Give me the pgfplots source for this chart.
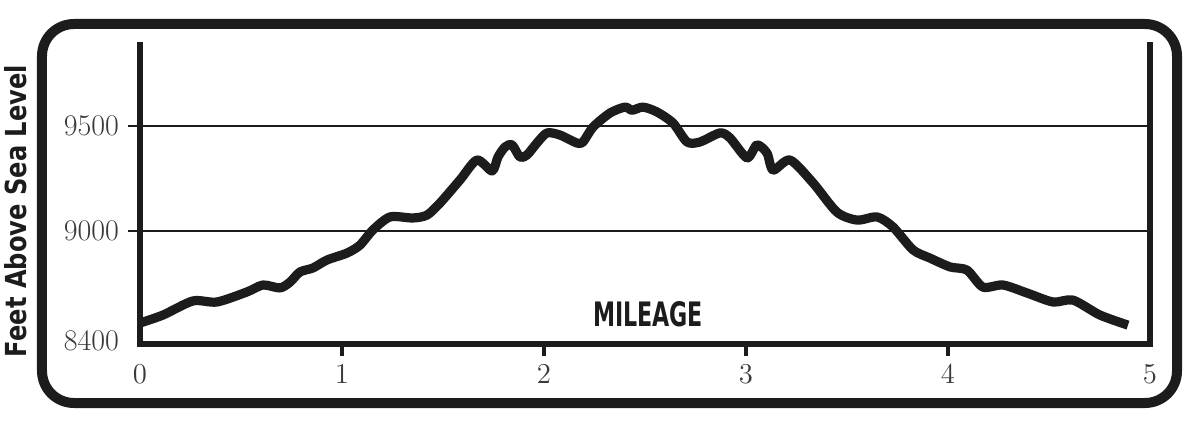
\documentclass[border=0pt]{standalone}
\usepackage{fontspec}
\usepackage{graphicx}
\usepackage{pgfplots}
\pgfplotsset{compat=1.18}
\newfontfamily\labfont{DejaVu Sans Condensed}[BoldFont={DejaVu Sans Condensed Bold}]
\definecolor{ink}{HTML}{1C1C1C}
\definecolor{tickgray}{HTML}{3A3A3A}
\begin{document}
\begin{tikzpicture}
\useasboundingbox (-70pt,-42.5pt) rectangle (530pt,172pt);
\begin{axis}[
  at={(0,0)}, anchor=south west,
  scale only axis, width=505pt, height=151pt,
  xmin=0, xmax=5, ymin=8462, ymax=9900,
  axis line style={draw=none},
  clip=false,
  xtick pos=bottom, ytick pos=left,
  xtick={1,2,3,4},
  extra x ticks={0,5},
  extra x tick style={tick style={draw=none}},
  ytick={9000,9500},
  yticklabels={9000,9500},
  extra y ticks={8462},
  extra y tick labels={8400},
  extra y tick style={tick style={draw=none}, grid=none, yticklabel style={yshift=1.5pt}},
  tick align=outside,
  major tick length=6pt,
  x tick style={line width=2pt, ink},
  y tick style={line width=0.75pt, ink},
  xticklabel style={yshift=-1pt},
  yticklabel style={xshift=-1pt},
  tick label style={font=\fontsize{15}{15}\selectfont, text=tickgray},
  ymajorgrids,
  major grid style={line width=0.8pt, ink},
]
\addplot[ink, line width=4.6pt, smooth, tension=0.45, line join=round, line cap=butt] coordinates {
(0.000,8562) (0.114,8600) (0.262,8667) (0.381,8662) (0.530,8710) (0.609,8743)
(0.693,8729) (0.743,8757) (0.792,8805) (0.856,8824) (0.926,8862) (1.025,8895)
(1.089,8933) (1.153,9005) (1.238,9067) (1.351,9062) (1.421,9076) (1.485,9133)
(1.584,9243) (1.668,9338) (1.743,9286) (1.772,9352) (1.807,9400) (1.842,9410)
(1.881,9352) (1.916,9362) (1.965,9419) (2.015,9467) (2.079,9457) (2.163,9419)
(2.193,9424) (2.243,9495) (2.327,9562) (2.401,9590) (2.436,9575) (2.490,9590)
(2.559,9567) (2.639,9514) (2.708,9424) (2.772,9424) (2.871,9467) (2.921,9443)
(3.005,9348) (3.054,9410) (3.104,9371) (3.134,9290) (3.218,9338) (3.332,9229)
(3.450,9090) (3.550,9052) (3.649,9067) (3.728,9019) (3.827,8910) (3.911,8871)
(4.010,8829) (4.094,8814) (4.173,8733) (4.272,8743) (4.391,8705) (4.520,8662)
(4.619,8671) (4.752,8600) (4.891,8552)
};
\draw[ink, line width=3.2pt] (axis cs:0,9900) -- (axis cs:0,8462) -- (axis cs:5,8462) -- (axis cs:5,9900);
\node[ink] at (axis cs:2.515,8602) {\resizebox{55pt}{12.5pt}{\labfont\bfseries MILEAGE}};
\end{axis}
\draw[ink, line width=5pt, rounded corners=16pt] (-49pt,-29.5pt) rectangle (518.5pt,160pt);
\node[ink, rotate=90] at (-62pt,66.5pt) {\resizebox{146pt}{11pt}{\labfont\bfseries Feet Above Sea Level}};
\end{tikzpicture}
\end{document}
